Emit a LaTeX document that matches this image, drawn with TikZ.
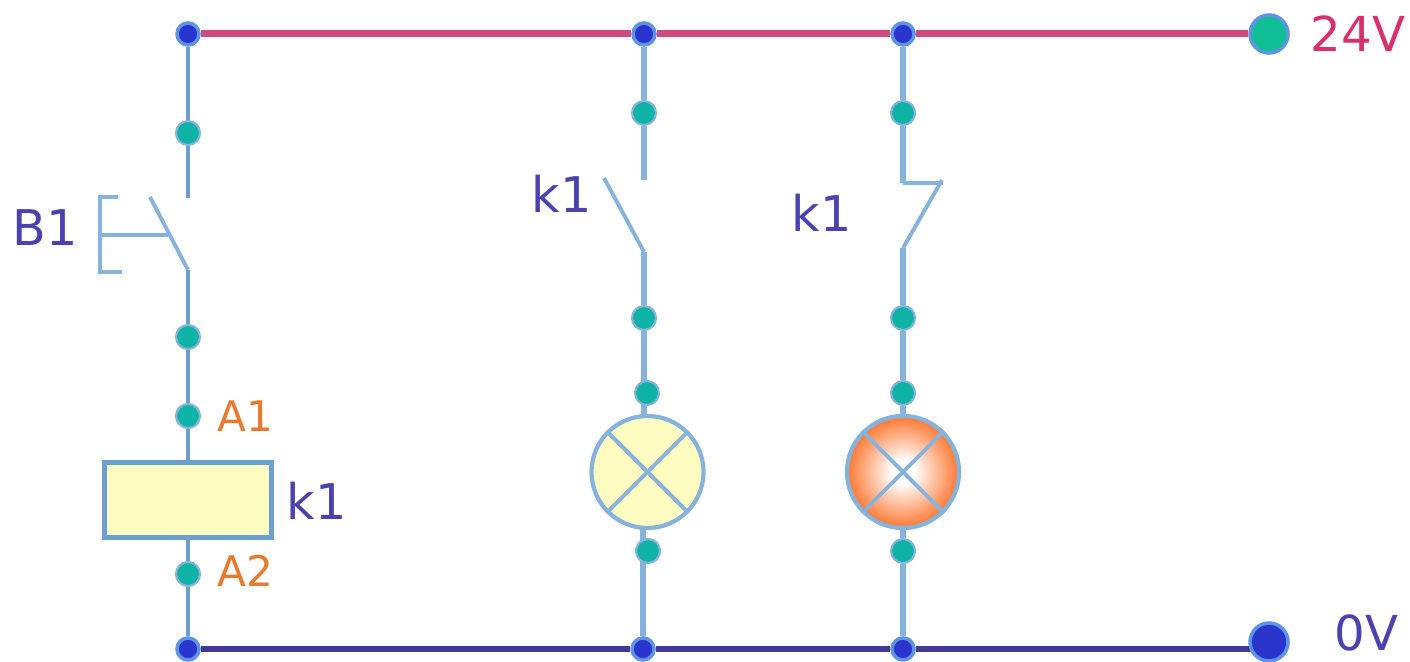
\documentclass[tikz,border=0pt]{standalone}
\usepackage{fontspec}
\usetikzlibrary{backgrounds}
\setmainfont{DejaVu Sans}
\definecolor{wireblue}{HTML}{86B2DE}
\definecolor{wiredark}{HTML}{6C9ECF}
\definecolor{railred}{HTML}{CC4A7E}
\definecolor{railblue}{HTML}{3F3A96}
\definecolor{dotblue}{HTML}{2A35CE}
\definecolor{dotgreen}{HTML}{0FB3A5}
\definecolor{bigreen}{HTML}{10BE95}
\definecolor{haloblue}{HTML}{5F93E6}
\definecolor{lampyellow}{HTML}{FDFBC0}
\definecolor{lamporange}{HTML}{FF6A1C}
\definecolor{labelblue}{HTML}{4A42B0}
\definecolor{labelorange}{HTML}{E87A30}
\definecolor{labelred}{HTML}{D8306E}
\pgfdeclareradialshading{lampglow}{\pgfpointorigin}{color(0bp)=(white); color(5bp)=(white); color(27bp)=(lamporange); color(50bp)=(lamporange)}
\tikzset{
  wire/.style={draw=wireblue, line width=1.6pt},
  leftwire/.style={draw=wiredark, line width=1.4pt},
  thinwire/.style={draw=wireblue, line width=1.1pt},
  railpos/.style={draw=railred, line width=2pt},
  railneg/.style={draw=railblue, line width=1.6pt},
  railnode/.style={circle, fill=dotblue, draw=haloblue, line width=1pt, minimum size=22*0.2845pt, inner sep=0pt},
  termnode/.style={circle, fill=dotgreen, draw=wireblue, line width=0.6pt, minimum size=24*0.2845pt, inner sep=0pt},
  txtblue/.style={anchor=base west, inner sep=0pt, text=labelblue, font=\fontsize{14}{16}\selectfont},
  txtsupply/.style={anchor=base west, inner sep=0pt, font=\fontsize{13.7}{16}\selectfont},
  txtorange/.style={anchor=base west, inner sep=0pt, text=labelorange, font=\fontsize{12}{14}\selectfont},
  lampnode/.style={circle, draw=wireblue, line width=1.2pt, minimum size=112*0.2845pt, inner sep=0pt}
}
\begin{document}
\begin{tikzpicture}[x=0.01cm,y=-0.01cm]
\useasboundingbox (0,0) rectangle (1410,662);

% Rail junctions
\foreach \name/\x/\y in {railA/188/34,railB/644/34,railC/903/34,gndA/188/649,gndB/643/649,gndC/903/649}
    \node[railnode] (\name) at (\x,\y) {};

% Terminals
\foreach \name/\x/\y in {tA/188/133,tB/188/337,tC/188/416,tD/188/574,tE/644/113,tF/644/318,tG/647/393,tH/648/551,tI/903/113,tJ/903/318,tK/903/393,tL/903/551}
    \node[termnode] (\name) at (\x,\y) {};

% Supply ends
\node[circle, fill=bigreen, draw=haloblue, line width=1pt, minimum size=38*0.2845pt, inner sep=0pt] (plus) at (1269,34) {};
\node[circle, fill=dotblue, draw=haloblue, line width=1pt, minimum size=38*0.2845pt, inner sep=0pt] (minus) at (1269,642) {};

% Coil and lamps
\node[draw=wiredark, line width=1.5pt, fill=lampyellow, minimum width=167*0.2845pt, minimum height=75*0.2845pt, inner sep=0pt] (coil) at (188,500) {};
\node[lampnode, fill=lampyellow] (lampA) at (647.5,472) {};
\node[lampnode, shading=lampglow] (lampB) at (903,472) {};
\foreach \lamp in {lampA,lampB} {
    \draw[thinwire] (\lamp.45) -- (\lamp.225);
    \draw[thinwire] (\lamp.135) -- (\lamp.315);
}

% Free ends of the contacts
\coordinate (swAtop) at (188,198);
\coordinate (swAbot) at (188,270);
\coordinate (swAtip) at (150,197);
\coordinate (swBtop) at (644,180);
\coordinate (swBbot) at (644,252);
\coordinate (swBtip) at (604,178);
\coordinate (swCknee) at (903,183);
\coordinate (swCbot) at (903,248);
\coordinate (swCtip) at (942,180);
\coordinate (swChook) at (943,183);

\begin{scope}[on background layer]
% Rails
\draw[railpos] (railA) -- (railB);
\draw[railpos] (railB) -- (railC);
\draw[railpos] (railC) -- (plus);
\draw[railneg] (gndA) -- (gndB);
\draw[railneg] (gndB) -- (gndC);
\draw[railneg] (gndC) -- (minus |- gndC);

% Left branch
\draw[leftwire] (railA) -- (tA);
\draw[leftwire] (tA) -- (swAtop);
\draw[thinwire] (swAtip) -- (swAbot);
\draw[leftwire] (swAbot) -- (tB);
\draw[leftwire] (tB) -- (tC);
\draw[leftwire] (tC) -- (coil);
\draw[leftwire] (coil) -- (tD);
\draw[leftwire] (tD) -- (gndA);

% Middle branch
\draw[wire] (railB) -- (tE);
\draw[wire] (tE) -- (swBtop);
\draw[thinwire] (swBtip) -- (swBbot);
\draw[wire] (swBbot) -- (tF);
\draw[wire] (tF) -- (tF |- lampA);
\draw[wire] (gndB |- lampA) -- (gndB);

% Right branch
\draw[wire] (railC) -- (tI);
\draw[wire] (tI) -- (swCknee);
\draw[thinwire] (swCknee) -- (swChook);
\draw[thinwire] (swCtip) -- (swCbot);
\draw[wire] (swCbot) -- (tJ);
\draw[wire] (tJ) -- (tK);
\draw[wire] (tK) -- (lampB);
\draw[wire] (lampB) -- (tL);
\draw[wire] (tL) -- (gndC);
\end{scope}

% Push button
\draw[thinwire] (118,197) -- (100,197) -- (100,272) -- (122,272);
\draw[thinwire] (100,235) -- (168,235);

% Labels
\node[txtblue] (lblB) at (12,246) {B1};
\node[txtblue] (lblK) at (286,520) {k1};
\node[txtblue] (lblKa) at (531,213) {k1};
\node[txtblue] (lblKb) at (791,232) {k1};
\node[txtorange] (lblAa) at (217,432) {A1};
\node[txtorange] (lblAb) at (217,587) {A2};
\node[txtsupply, text=labelred] (lblP) at (1310,52) {24V};
\node[txtsupply, text=labelblue] (lblM) at (1334,651) {0V};
\end{tikzpicture}
\end{document}
